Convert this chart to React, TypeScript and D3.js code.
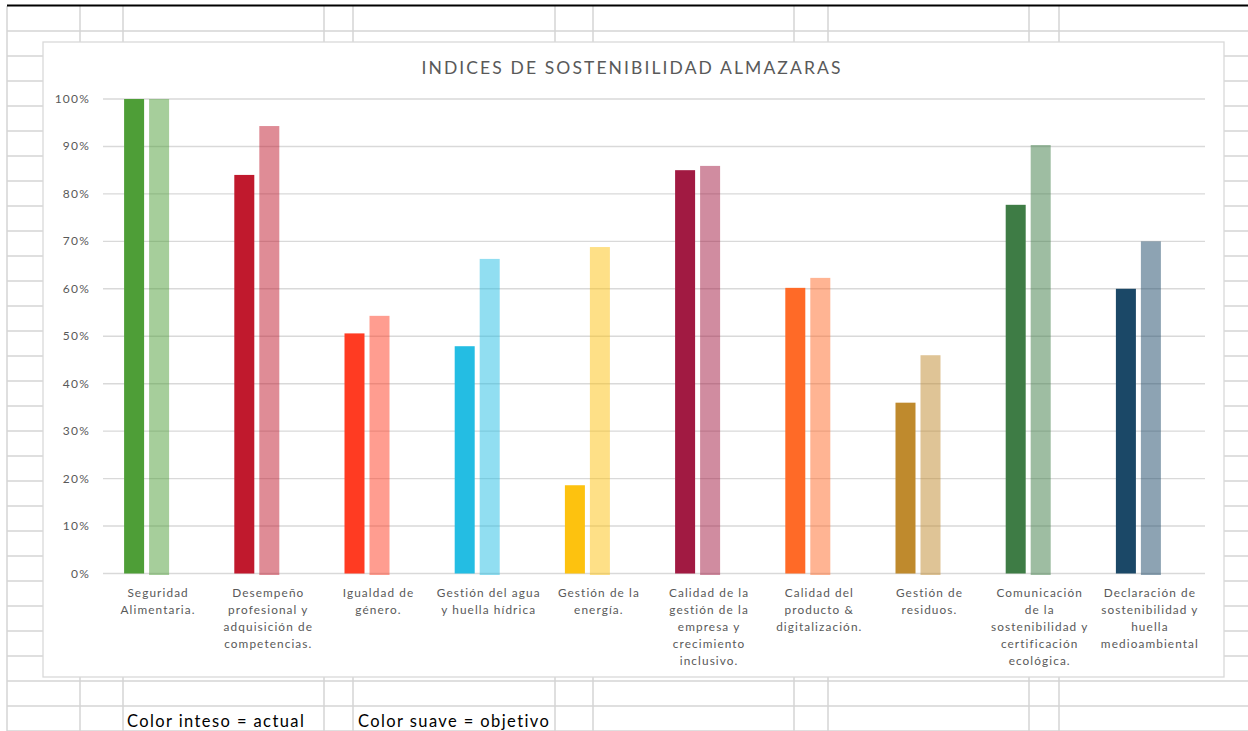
import React from "react";
import * as d3 from "d3";

const categories: string[][] = [
  ["Seguridad", "Alimentaria."],
  ["Desempeño", "profesional y", "adquisición de", "competencias."],
  ["Igualdad de", "género."],
  ["Gestión del agua", "y huella hídrica"],
  ["Gestión de la", "energía."],
  ["Calidad de la", "gestión de la", "empresa y", "crecimiento", "inclusivo."],
  ["Calidad del", "producto &", "digitalización."],
  ["Gestión de", "residuos."],
  ["Comunicación", "de la", "sostenibilidad y", "certificación", "ecológica."],
  ["Declaración de", "sostenibilidad y", "huella", "medioambiental"],
];

const actual = [100, 84.0, 50.6, 47.9, 18.6, 85.0, 60.2, 36.0, 77.7, 60.0];
const objetivo = [100, 94.3, 54.3, 66.3, 68.8, 85.9, 62.3, 46.0, 90.3, 70.0];

const colors = [
  "#4E9E37",
  "#C0192D",
  "#FF3B22",
  "#24BDE3",
  "#FDC20F",
  "#A11A42",
  "#FF6A27",
  "#BF8A2D",
  "#3E7C45",
  "#1B4867",
];

const yTicks = [0, 10, 20, 30, 40, 50, 60, 70, 80, 90, 100];
const seriesKeys = ["actual", "objetivo", "vacío"];

const title = "INDICES DE SOSTENIBILIDAD ALMAZARAS";
const note1 = "Color inteso = actual";
const note2 = "Color suave = objetivo";

const W = 1248;
const H = 731;
const sheetCols = [7, 80, 123, 324, 353, 555, 593, 794, 828, 1029, 1059];
const FONT = "Lato, 'Open Sans', sans-serif";

export default function App() {
  const x = d3
    .scaleBand<number>()
    .domain(categories.map((_, i) => i))
    .range([103, 1205])
    .padding(0);
  const y = d3.scaleLinear().domain([0, 100]).range([573.5, 99]);

  const rows = d3.range(31, H + 1, 25);

  return (
    <svg
      width={W}
      height={H}
      style={{ position: "absolute", left: 0, top: 0, background: "#fff" }}
    >
      {/* spreadsheet grid */}
      <g stroke="#d4d4d4" strokeWidth={1.5}>
        {rows.map((r) => (
          <line key={"r" + r} x1={7} x2={W} y1={r} y2={r} />
        ))}
        {sheetCols.map((c) => (
          <line key={"c" + c} x1={c} x2={c} y1={6} y2={H} />
        ))}
      </g>
      <line x1={7} x2={W} y1={5.5} y2={5.5} stroke="#000" strokeWidth={2} />

      {/* chart area */}
      <rect x={43} y={42} width={1181} height={635} fill="#fff" stroke="#d9d9d9" strokeWidth={1.3} />

      <text
        x={632}
        y={74}
        textAnchor="middle"
        fontFamily={FONT}
        fontSize={17.5}
        letterSpacing={2.1}
        fill="#595959"
      >
        {title}
      </text>

      {/* gridlines */}
      <g>
        {yTicks.map((t) => (
          <line
            key={"g" + t}
            x1={103}
            x2={1205}
            y1={y(t)}
            y2={y(t)}
            stroke="#d9d9d9"
            strokeWidth={1.4}
          />
        ))}
      </g>

      {/* y labels */}
      <g fontFamily={FONT} fontSize={12} fill="#595959" letterSpacing={1.2}>
        {yTicks.map((t) => (
          <text key={"yl" + t} x={90} y={y(t) + 4} textAnchor="end">
            {t + "%"}
          </text>
        ))}
      </g>

      {/* bars */}
      {categories.map((_, i) => {
        const c = (x(i) as number) + x.bandwidth() / 2;
        const sub = d3
          .scaleBand<string>()
          .domain(seriesKeys)
          .range([c - 36.5, c + 38.5])
          .paddingInner(0.2)
          .paddingOuter(0.1);
        return (
          <g key={"b" + i}>
            <rect
              x={sub("actual")}
              y={y(actual[i])}
              width={sub.bandwidth()}
              height={y(0) - y(actual[i])}
              fill={colors[i]}
            />
            <rect
              x={sub("objetivo")}
              y={y(objetivo[i])}
              width={sub.bandwidth()}
              height={y(0) - y(objetivo[i]) + 1.5}
              fill={colors[i]}
              fillOpacity={0.5}
            />
          </g>
        );
      })}

      {/* category labels */}
      <g fontFamily={FONT} fontSize={11.8} fill="#595959" letterSpacing={1.1}>
        {categories.map((lines, i) => {
          const c = (x(i) as number) + x.bandwidth() / 2;
          return (
            <text key={"cl" + i} textAnchor="middle">
              {lines.map((ln, j) => (
                <tspan key={j} x={c} y={597 + j * 17}>
                  {ln}
                </tspan>
              ))}
            </text>
          );
        })}
      </g>

      {/* notes */}
      <g fontFamily={FONT} fontSize={16.5} fill="#000" letterSpacing={1.4}>
        <text x={127} y={727}>{note1}</text>
        <text x={358} y={727}>{note2}</text>
      </g>
    </svg>
  );
}
